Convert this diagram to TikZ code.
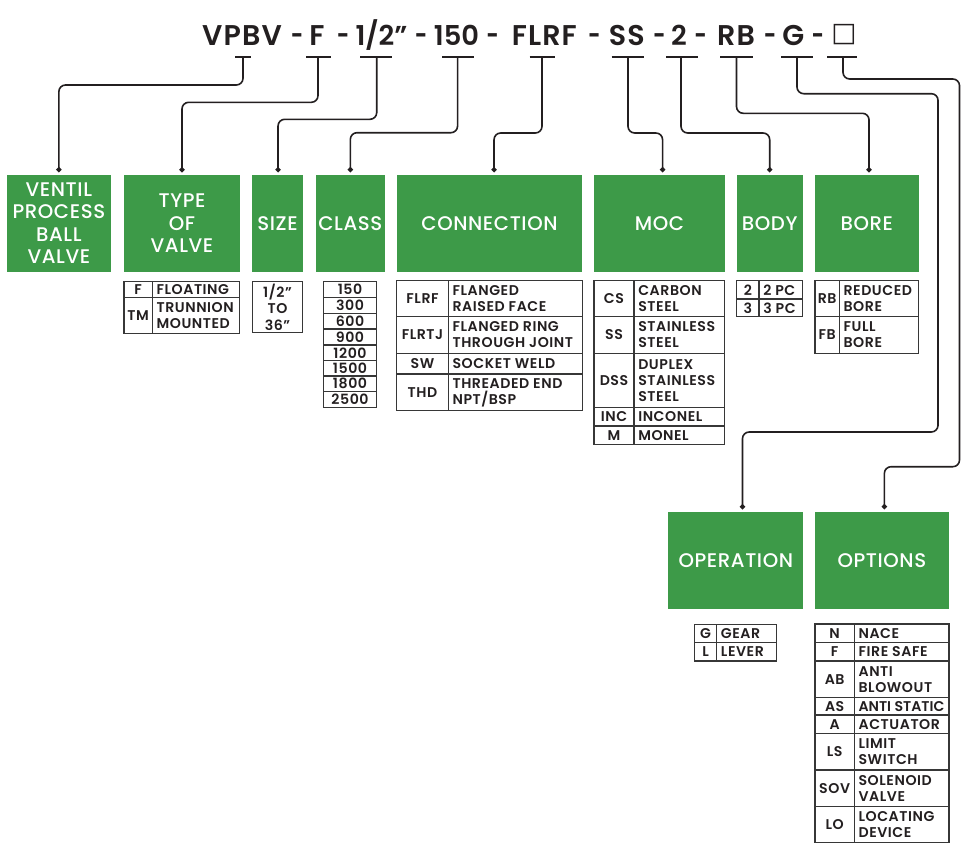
\documentclass[tikz,border=0pt]{standalone}
\usepackage{fontspec}
\setmainfont{Poppins}
\newfontfamily\medfont{Poppins Medium}[LetterSpace=3]
\newfontfamily\sbfont{Poppins SemiBold}[LetterSpace=4]
\newfontfamily\codefont{Poppins SemiBold}[LetterSpace=4]
\newfontfamily\numfont{Poppins SemiBold}
\newfontfamily\symfont{DejaVu Sans}
\usetikzlibrary{arrows.meta}
\definecolor{vgreen}{RGB}{61,154,72}
\definecolor{ink}{RGB}{35,31,32}
\definecolor{tgray}{RGB}{55,55,55}
% table row: x1, xdiv, x2, y1, y2, code, description
\newcommand{\crow}[7]{%
  \draw[tline] (#1,#4) rectangle (#3,#5);
  \draw[tline] (#2,#4) -- (#2,#5);
  \node[tcode] at ({(#1+#2)/2},{(#4+#5)/2}) {#6};
  \node[tdesc] at ({#2+4},{(#4+#5)/2}) {#7};
}
% green box: name, x1, y1, x2, y2, text
\newcommand{\gnode}[6]{%
  \node[gbox, minimum width={(#4-#2)*0.75pt}, minimum height={(#5-#3)*0.75pt}]
    (#1) at ({(#2+#4)/2},{(#3+#5)/2}) {#6};
}
\begin{document}
\begin{tikzpicture}[x=0.75pt,y=-0.75pt,
  gbox/.style={fill=vgreen, draw=none, inner sep=0pt, text=white,
    font=\medfont\fontsize{14.8}{16.8}\selectfont, align=center},
  codetxt/.style={text=ink, font=\codefont\fontsize{21.4}{24}\selectfont, inner sep=0pt, anchor=base},
  numtxt/.style={codetxt, font=\numfont\fontsize{20.5}{24}\selectfont},
  tline/.style={draw=tgray, line width=0.8pt},
  tcode/.style={text=ink, font=\sbfont\fontsize{10.6}{12}\selectfont, inner sep=0pt, align=center},
  tdesc/.style={text=ink, font=\sbfont\fontsize{10.6}{12}\selectfont, inner sep=0pt, align=left, anchor=west},
  barline/.style={draw=ink, line width=1.2pt},
  conn/.style={draw=ink, line width=1.2pt, rounded corners=5pt,
    -{Circle[length=3.8pt,width=3.8pt]}, shorten >=1.9pt}
]
\useasboundingbox (0,0) rectangle (969,846);
\fill[white] (0,0) rectangle (969,846);

% ---- code line ----
\node[codetxt] (cVPBV) at (242,45) {VPBV};
\node[codetxt] (d1) at (297,45) {\scalebox{0.75}[1]{-}};
\node[codetxt] (cF) at (317,45) {F};
\node[codetxt] (d2) at (343,45) {\scalebox{0.75}[1]{-}};
\node[numtxt] (cSize) at (381.5,45) {1/2”};
\node[codetxt] (d3) at (421,45) {\scalebox{0.75}[1]{-}};
\node[numtxt] (cClass) at (456.5,45) {150};
\node[codetxt] (d4) at (492.5,45) {\scalebox{0.75}[1]{-}};
\node[codetxt] (cConn) at (544.3,45) {FLRF};
\node[codetxt] (d5) at (594.3,45) {\scalebox{0.75}[1]{-}};
\node[codetxt] (cMoc) at (626.7,45) {SS};
\node[codetxt] (d6) at (659.3,45) {\scalebox{0.75}[1]{-}};
\node[numtxt] (cBody) at (679,45) {2};
\node[codetxt] (d7) at (700.5,45) {\scalebox{0.75}[1]{-}};
\node[codetxt] (cBore) at (736,45) {RB};
\node[codetxt] (d8) at (770,45) {\scalebox{0.75}[1]{-}};
\node[codetxt] (cOp) at (793.3,45) {G};
\node[codetxt] (d9) at (817.8,45) {\scalebox{0.75}[1]{-}};
\node[text=ink, font=\symfont\fontsize{20}{20}\selectfont, inner sep=0pt] (cOpt) at (844,35) {□};

% ---- bars under code ----
\coordinate (bVPBV) at (243,56.7);
\coordinate (bF) at (318,56.7);
\coordinate (bSize) at (376.7,56.7);
\coordinate (bClass) at (457.6,56.7);
\coordinate (bConn) at (542,56.7);
\coordinate (bMoc) at (628,56.7);
\coordinate (bBody) at (681,56.7);
\coordinate (bBore) at (736.5,56.7);
\coordinate (bOp) at (797,56.7);
\coordinate (bOpt) at (843,56.7);
\draw[barline] (235,56.7) -- (250.7,56.7);
\draw[barline] (306,56.7) -- (331,56.7);
\draw[barline] (360,56.7) -- (392,56.7);
\draw[barline] (442,56.7) -- (474,56.7);
\draw[barline] (529.5,56.7) -- (555,56.7);
\draw[barline] (611.5,56.7) -- (644,56.7);
\draw[barline] (666,56.7) -- (698,56.7);
\draw[barline] (720,56.7) -- (752.5,56.7);
\draw[barline] (781,56.7) -- (813,56.7);
\draw[barline] (827,56.7) -- (857,56.7);

% ---- green boxes ----
\gnode{ventil}{6.7}{175}{111}{271.5}{VENTIL\\PROCESS\\BALL\\VALVE}
\gnode{type}{124}{175}{240}{271.5}{TYPE\\OF\\VALVE}
\gnode{size}{251.7}{175}{303.3}{271.5}{SIZE}
\gnode{class}{315.7}{175}{385}{271.5}{CLASS}
\gnode{connection}{396.7}{175}{582.3}{271.5}{CONNECTION}
\gnode{moc}{594}{175}{725}{271.5}{MOC}
\gnode{body}{736.7}{175}{802.7}{271.5}{BODY}
\gnode{bore}{815}{175}{918.5}{271.5}{BORE}
\gnode{operation}{668.3}{512}{803.3}{608.7}{OPERATION}
\gnode{options}{815}{512}{948.7}{608.7}{OPTIONS}

% ---- connectors ----
\coordinate (gturn) at (938,432);
\coordinate (oturn) at (959.5,466.7);
\draw[conn] (bVPBV) -- ++(0,28.3) -| (ventil.north);
\draw[conn] (bF) -- ++(0,45.6) -| (type.north);
\draw[conn] (bSize) -- ++(0,62.6) -| ([xshift=0.4pt]size.north);
\draw[conn] (bClass) -- ++(0,76) -| (class.north);
\draw[conn] (bConn) -- ++(0,76.3) -| ([xshift=3.4pt]connection.north);
\draw[conn] (bMoc) -- ++(0,76.3) -| ([xshift=2.3pt]moc.north);
\draw[conn] (bBody) -- ++(0,76.3) -| (body.north);
\draw[conn] (bBore) -- ++(0,56.6) -| ([xshift=1.7pt]bore.north);
\draw[conn] (bOp) -- ++(0,37) -| (gturn) -| ([xshift=5pt]operation.north);
\draw[conn] (bOpt) -- ++(0,22.3) -| (oturn) -| ([xshift=1.9pt]options.north);

% ---- tables ----
% type of valve
\crow{124}{152.3}{239.3}{281.7}{297.7}{F}{FLOATING}
\crow{124}{152.3}{239.3}{297.7}{333.3}{TM}{TRUNNION\\MOUNTED}
% size
\draw[tline] (252.3,281.7) rectangle (302.7,332.7);
\node[tcode, font=\sbfont\fontsize{10.6}{12.2}\selectfont] (sizetxt) at (277.5,307.2) {1/2”\\TO\\36”};
% class
\foreach \ya/\yb/\t in {281.7/297.7/150, 297.7/313.3/300, 313.3/329/600, 329/345/900,
  345/360.7/1200, 360.7/376/1500, 376/391.7/1800, 391.7/407.7/2500}{
  \draw[tline] (323.3,\ya) rectangle (376.7,\yb);
  \node[tcode] at (350,{(\ya+\yb)/2}) {\t};
}
% connection
\crow{396.7}{448.3}{582.3}{280.7}{316.7}{FLRF}{FLANGED\\RAISED FACE}
\crow{396.7}{448.3}{582.3}{316.7}{353.3}{FLRTJ}{FLANGED RING\\THROUGH JOINT}
\crow{396.7}{448.3}{582.3}{353.3}{374}{SW}{SOCKET WELD}
\crow{396.7}{448.3}{582.3}{374}{410.7}{THD}{THREADED END\\NPT/BSP}
% moc
\crow{594}{634}{724.3}{280.7}{316.7}{CS}{CARBON\\STEEL}
\crow{594}{634}{724.3}{316.7}{353.3}{SS}{STAINLESS\\STEEL}
\crow{594}{634}{724.3}{353.3}{407.3}{DSS}{DUPLEX\\STAINLESS\\STEEL}
\crow{594}{634}{724.3}{407.3}{426}{INC}{INCONEL}
\crow{594}{634}{724.3}{426}{444.3}{M}{MONEL}
% body
\crow{736.7}{759}{802.7}{280.7}{299}{2}{2 PC}
\crow{736.7}{759}{802.7}{299}{316.7}{3}{3 PC}
% bore
\crow{815}{839.3}{918.7}{280.7}{316.7}{RB}{REDUCED\\BORE}
\crow{815}{839.3}{918.7}{316.7}{353.3}{FB}{FULL\\BORE}
% operation
\crow{694.3}{716.7}{776.7}{624.3}{642.7}{G}{GEAR}
\crow{694.3}{716.7}{776.7}{642.7}{661}{L}{LEVER}
% options
\crow{815}{854.3}{949}{624}{642.3}{N}{NACE}
\crow{815}{854.3}{949}{642.3}{661}{F}{FIRE SAFE}
\crow{815}{854.3}{949}{661}{697.3}{AB}{ANTI\\BLOWOUT}
\crow{815}{854.3}{949}{697.3}{715}{AS}{\addfontfeature{LetterSpace=0}ANTI STATIC}
\crow{815}{854.3}{949}{715}{733.3}{A}{ACTUATOR}
\crow{815}{854.3}{949}{733.3}{770}{LS}{LIMIT\\SWITCH}
\crow{815}{854.3}{949}{770}{806.7}{SOV}{SOLENOID\\VALVE}
\crow{815}{854.3}{949}{806.7}{842.7}{LO}{LOCATING\\DEVICE}
\end{tikzpicture}
\end{document}
